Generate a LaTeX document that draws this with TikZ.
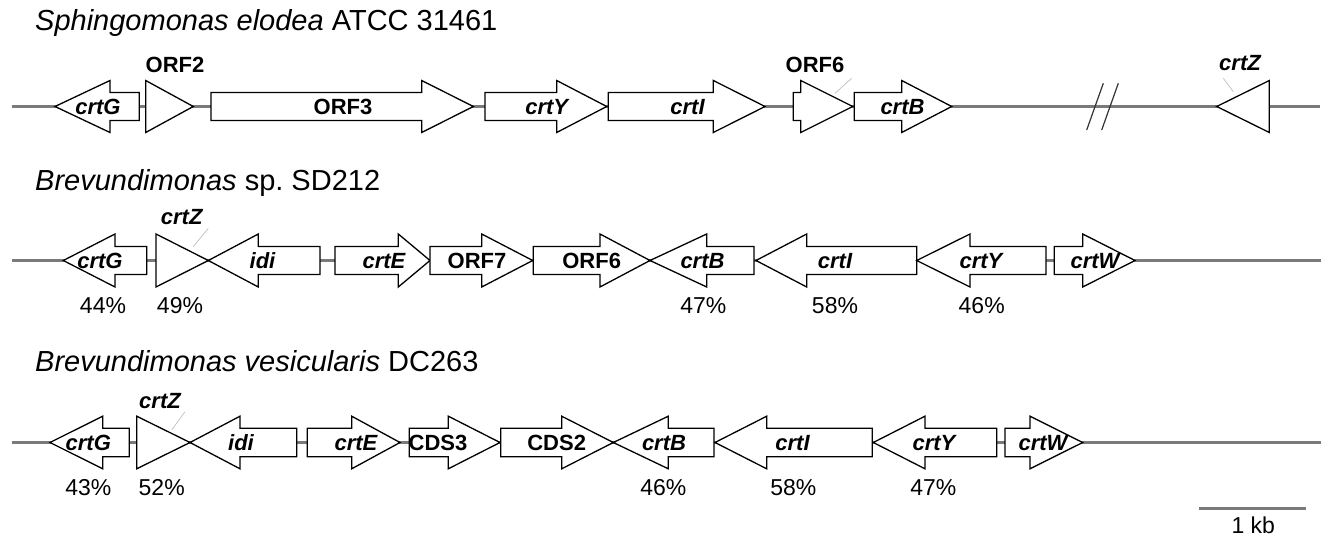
\documentclass[tikz,border=0pt]{standalone}
\usepackage{fontspec}
\setmainfont{Liberation Sans}
\frenchspacing
\begin{document}
\begin{tikzpicture}[x=1pt,y=-1pt,
  backbone/.style={draw=black!52,line width=2.8pt},
  genebox/.style={draw=black,fill=white,line width=1.3pt,line join=miter},
  glab/.style={font=\fontsize{22}{24}\selectfont\bfseries\itshape,inner sep=0pt,anchor=base,yshift=-7.9pt},
  olab/.style={font=\fontsize{22}{24}\selectfont\bfseries,inner sep=0pt,anchor=base,yshift=-7.9pt},
  pct/.style={font=\fontsize{23}{26}\selectfont,inner sep=0pt,anchor=base,yshift=-8.2pt},
  ttl/.style={font=\fontsize{29}{32}\selectfont,anchor=base west,inner sep=0pt},
  leader/.style={draw=black!25,line width=0.7pt},
  brk/.style={draw=black!80,line width=1.2pt}]
\useasboundingbox (0,0) rectangle (1323,537);
\newcommand\genearr[4]{%
  \draw[genebox] (#1,{#4-\bh}) -- (#2,{#4-\bh}) -- (#2,{#4-\hh}) -- (#3,#4) -- (#2,{#4+\hh}) -- (#2,{#4+\bh}) -- (#1,{#4+\bh}) -- cycle;}
% ---------- titles
\node[ttl] (t1) at (35,31) {\itshape Sphingomonas elodea\upshape{} ATCC 31461};
\node[ttl] (t2) at (35,191) {\itshape Brevundimonas\upshape{} sp.\ SD212};
\node[ttl] (t3) at (35,371) {\itshape Brevundimonas vesicularis\upshape{} DC263};
% ---------- row 1
\def\bh{14}\def\hh{26}
\coordinate (r1a) at (12,106.5);
\coordinate (r1b) at (1320,106.5);
\draw[backbone] (r1a) -- (r1b);
\draw[brk] (1086.7,130) -- (1103.3,83.3);
\draw[brk] (1101.7,130) -- (1118.3,83.3);
\genearr{139.3}{110}{55}{106.5}
\genearr{145.7}{145.7}{193.3}{106.5}
\genearr{211}{421.7}{473.3}{106.5}
\genearr{485}{556.7}{606.7}{106.5}
\genearr{608.3}{713.3}{765}{106.5}
\genearr{793.3}{800.7}{852.7}{106.5}
\genearr{854.3}{901.7}{951.7}{106.5}
\genearr{1269.3}{1269.3}{1216.7}{106.5}
\node[glab] (g1crtG) at (98,106.5) {crtG};
\node[olab] (g1orf2) at (175,65) {ORF2};
\node[olab] (g1orf3) at (343,106.5) {ORF3};
\node[glab] (g1crtY) at (546.7,106.5) {crtY};
\node[glab] (g1crtI) at (687.5,106.5) {crtI};
\node[olab] (g1orf6) at (815,65) {ORF6};
\node[glab] (g1crtB) at (902.5,106.5) {crtB};
\node[glab] (g1crtZ) at (1240,63) {crtZ};
\coordinate (l1a) at (835,93.3); \coordinate (l1b) at (851.7,78.3);
\draw[leader] (l1a) -- (l1b);
\coordinate (l2a) at (1223.3,78.3); \coordinate (l2b) at (1233.3,91.7);
\draw[leader] (l2a) -- (l2b);
% ---------- row 2
\def\bh{14}\def\hh{26.5}
\coordinate (r2a) at (12,260.5);
\coordinate (r2b) at (1321,260.5);
\draw[backbone] (r2a) -- (r2b);
\genearr{146.7}{115}{63.3}{260.5}
\genearr{156}{156}{208.3}{260.5}
\genearr{320}{258.3}{208.3}{260.5}
\genearr{335}{398.3}{430}{260.5}
\genearr{430}{481.7}{532.7}{260.5}
\genearr{533.3}{600}{650}{260.5}
\genearr{754}{706.7}{650}{260.5}
\genearr{916.7}{806.7}{756}{260.5}
\genearr{1046}{970}{916.7}{260.5}
\genearr{1054.3}{1082.7}{1135}{260.5}
\node[glab] (g2crtG) at (100,260.5) {crtG};
\node[glab] (g2crtZ) at (181.7,216.7) {crtZ};
\node[glab] (g2idi) at (262.5,260.5) {idi};
\node[glab] (g2crtE) at (384,260.5) {crtE};
\node[olab] (g2orf7) at (477,260.5) {ORF7};
\node[olab] (g2orf6) at (591.7,260.5) {ORF6};
\node[glab] (g2crtB) at (702.5,260.5) {crtB};
\node[glab] (g2crtI) at (835,260.5) {crtI};
\node[glab] (g2crtY) at (981,260.5) {crtY};
\node[glab] (g2crtW) at (1095,260.5) {crtW};
\coordinate (l3a) at (208.3,228.3); \coordinate (l3b) at (193.3,246.7);
\draw[leader] (l3a) -- (l3b);
\node[pct] (p2a) at (103,305) {44\%};
\node[pct] (p2b) at (180,305) {49\%};
\node[pct] (p2c) at (703.3,305) {47\%};
\node[pct] (p2d) at (835,305) {58\%};
\node[pct] (p2e) at (981.7,305) {46\%};
% ---------- row 3
\def\bh{14.2}\def\hh{26.3}
\coordinate (r3a) at (12,442.5);
\coordinate (r3b) at (1321,442.5);
\draw[backbone] (r3a) -- (r3b);
\genearr{129.3}{102.7}{50}{442.5}
\genearr{136.7}{136.7}{190}{442.5}
\genearr{296.7}{240}{190}{442.5}
\genearr{307.3}{351.7}{400}{442.5}
\genearr{409.3}{448.3}{500}{442.5}
\genearr{500.7}{561.7}{613.3}{442.5}
\genearr{714}{668.3}{613.3}{442.5}
\genearr{872.3}{766.7}{715}{442.5}
\genearr{996.7}{925}{873.3}{442.5}
\genearr{1005}{1030}{1082.7}{442.5}
\node[glab] (g3crtG) at (88.3,442.5) {crtG};
\node[glab] (g3crtZ) at (160,400.7) {crtZ};
\node[glab] (g3idi) at (241,442.5) {idi};
\node[glab] (g3crtE) at (356,442.5) {crtE};
\node[olab] (g3cds3) at (438,442.5) {CDS3};
\node[olab] (g3cds2) at (556.7,442.5) {CDS2};
\node[glab] (g3crtB) at (664,442.5) {crtB};
\node[glab] (g3crtI) at (792.5,442.5) {crtI};
\node[glab] (g3crtY) at (934,442.5) {crtY};
\node[glab] (g3crtW) at (1043,442.5) {crtW};
\coordinate (l4a) at (185,411.7); \coordinate (l4b) at (171.7,430);
\draw[leader] (l4a) -- (l4b);
\node[pct] (p3a) at (88.3,487.3) {43\%};
\node[pct] (p3b) at (161.7,487.3) {52\%};
\node[pct] (p3c) at (663.3,487.3) {46\%};
\node[pct] (p3d) at (793.3,487.3) {58\%};
\node[pct] (p3e) at (933.3,487.3) {47\%};
% ---------- scale bar
\coordinate (sa) at (1199,508.5);
\coordinate (sb) at (1306,508.5);
\draw[backbone] (sa) -- (sb);
\node[pct] (skb) at (1253.3,525.5) {1 kb};
\end{tikzpicture}
\end{document}
